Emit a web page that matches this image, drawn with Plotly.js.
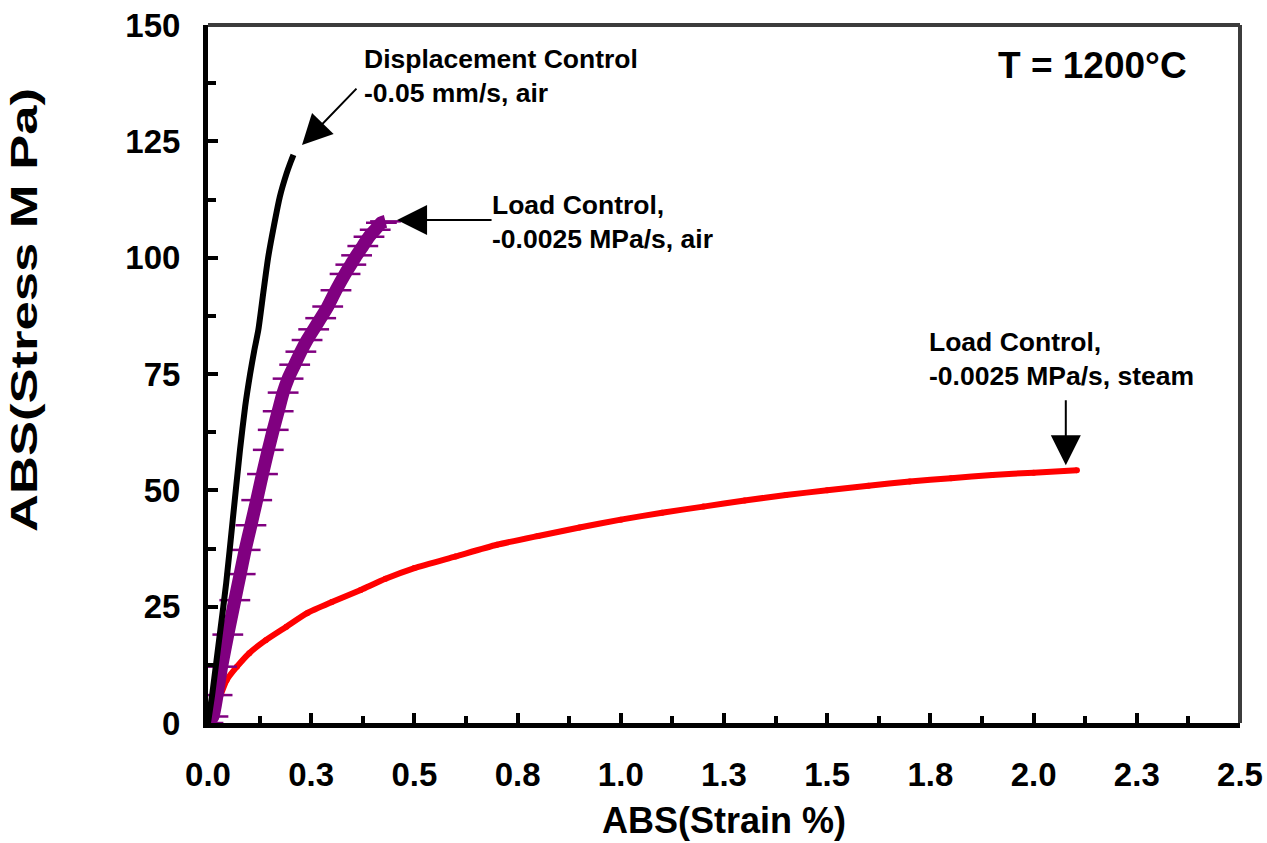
<!DOCTYPE html>
<html>
<head>
<meta charset="utf-8">
<script src="https://cdn.plot.ly/plotly-3.0.1.min.js"></script>
<style>
  html, body { margin: 0; padding: 0; background: #fff; }
  #chart { width: 1267px; height: 843px; }
</style>
</head>
<body>
<div id="chart"></div>
<script>
// Displacement control, -0.05 mm/s, air
const dispStrain = [0, 0.01, 0.02, 0.03, 0.044, 0.06, 0.0775, 0.09, 0.102, 0.112, 0.122, 0.134, 0.146, 0.16, 0.174, 0.19, 0.2, 0.207];
const dispStress = [0, 6, 13, 20, 30, 43.7, 58.7, 68, 75, 80, 84.5, 92.5, 100.2, 107, 113.1, 118, 120.5, 122.1];

// Load control, -0.0025 MPa/s, air
const airStrain = [0, 0.012, 0.022, 0.033, 0.048, 0.065, 0.078, 0.09, 0.104, 0.118, 0.132, 0.146, 0.158, 0.17, 0.182, 0.194, 0.21, 0.225, 0.24, 0.256, 0.273, 0.29, 0.31, 0.332, 0.346, 0.36, 0.375, 0.39, 0.405, 0.42, 0.43];
const airStress = [0, 1.4, 6, 12.1, 19, 26.4, 32, 37.2, 42.5, 47.9, 53.5, 58.7, 63, 67, 71, 74, 77, 79.8, 82.3, 84.6, 87, 89.5, 93, 96.5, 98.5, 100.5, 102.5, 104.5, 106, 107.5, 107.8];

// Load control, -0.0025 MPa/s, steam
const steamStrain = [0, 0.01, 0.02, 0.029, 0.045, 0.07, 0.1, 0.14, 0.19, 0.24, 0.3, 0.37, 0.43, 0.5, 0.6, 0.7, 0.8, 0.9, 1.0, 1.1, 1.2, 1.3, 1.4, 1.5, 1.6, 1.7, 1.8, 1.9, 2.0, 2.105];
const steamStress = [0, 2, 4, 5.7, 9.2, 12.1, 15, 17.8, 20.7, 23.6, 26, 28.6, 31, 33.3, 35.8, 38.3, 40.2, 42, 43.7, 45.2, 46.5, 47.8, 49, 50, 51, 51.9, 52.6, 53.3, 53.8, 54.3];

const xTickVals = [0, 0.25, 0.5, 0.75, 1.0, 1.25, 1.5, 1.75, 2.0, 2.25, 2.5];
const xTickText = ['0.0', '0.3', '0.5', '0.8', '1.0', '1.3', '1.5', '1.8', '2.0', '2.3', '2.5'];
const yTickVals = [0, 25, 50, 75, 100, 125, 150];
const yTickText = ['0', '25', '50', '75', '100', '125', '150'];

const FONT = 'Liberation Sans, Arial, sans-serif';

const traces = [
  {
    x: steamStrain, y: steamStress, type: 'scatter', mode: 'lines+markers',
    line: { color: '#ff0000', width: 6, shape: 'spline', smoothing: 0.6 },
    marker: { color: '#ff0000', size: 6 },
    name: 'Load Control, steam', showlegend: false
  },
  {
    x: airStrain, y: airStress, type: 'scatter', mode: 'lines+markers',
    line: { color: '#800080', width: 13, shape: 'spline', smoothing: 0.6 },
    marker: { symbol: 'line-ew-open', color: '#800080', size: 22, line: { color: '#800080', width: 2.5 } },
    name: 'Load Control, air', showlegend: false
  },
  {
    x: dispStrain, y: dispStress, type: 'scatter', mode: 'lines',
    line: { color: '#000000', width: 6, shape: 'spline', smoothing: 0.6 },
    name: 'Displacement Control', showlegend: false
  }
];

const annFont = { family: FONT, size: 26.5, color: '#000', weight: 700 };

const layout = {
  width: 1267, height: 843,
  margin: { l: 208, r: 27, t: 25, b: 120 },
  paper_bgcolor: '#fff', plot_bgcolor: '#fff',
  font: { family: FONT, color: '#000', weight: 700 },
  showlegend: false,
  xaxis: {
    range: [0, 2.5], tickmode: 'array', tickvals: xTickVals, ticktext: xTickText,
    ticks: 'inside', ticklen: 10, tickwidth: 4, tickcolor: '#000',
    minor: { dtick: 0.125, tick0: 0, ticks: 'inside', ticklen: 7, tickwidth: 4, tickcolor: '#000' },
    showline: true, linecolor: '#000', linewidth: 5,
    showgrid: false, zeroline: false,
    tickfont: { family: FONT, size: 33, color: '#000', weight: 700 },
    ticklabelstandoff: 18,
    title: { text: 'ABS(Strain %)', font: { family: FONT, size: 36, color: '#000', weight: 700 }, standoff: 18 },
    automargin: false
  },
  yaxis: {
    range: [0, 150], tickmode: 'array', tickvals: yTickVals, ticktext: yTickText,
    ticks: 'inside', ticklen: 10, tickwidth: 4, tickcolor: '#000',
    minor: { dtick: 12.5, tick0: 0, ticks: 'inside', ticklen: 8, tickwidth: 4, tickcolor: '#000' },
    showline: true, linecolor: '#000', linewidth: 5,
    showgrid: false, zeroline: false,
    tickfont: { family: FONT, size: 33, color: '#000', weight: 700 },
    ticklabelstandoff: 16,
    title: { text: 'ABS(Stress M Pa)', font: { family: FONT, size: 37, color: '#000', weight: 700 }, standoff: 78 },
    automargin: false
  },
  shapes: [
    { type: 'line', xref: 'paper', yref: 'paper', x0: 0, x1: 1, y0: 1, y1: 1, line: { color: '#3c3c3c', width: 4 } },
    { type: 'line', xref: 'paper', yref: 'paper', x0: 1, x1: 1, y0: 0, y1: 1, line: { color: '#3c3c3c', width: 4 } }
  ],
  annotations: [
    { xref: 'x', yref: 'y', x: 0.373, y: 139.0, xanchor: 'left', yanchor: 'middle', align: 'left',
      text: 'Displacement Control<br>-0.05 mm/s, air', showarrow: false, font: annFont },
    { xref: 'x', yref: 'y', x: 0.683, y: 107.6, xanchor: 'left', yanchor: 'middle', align: 'left',
      text: 'Load Control,<br>-0.0025 MPa/s, air', showarrow: false, font: annFont },
    { xref: 'x', yref: 'y', x: 1.742, y: 78.2, xanchor: 'left', yanchor: 'middle', align: 'left',
      text: 'Load Control,<br>-0.0025 MPa/s, steam', showarrow: false, font: annFont },
    { xref: 'x', yref: 'y', x: 2.1415, y: 141.2, xanchor: 'center', yanchor: 'middle',
      text: 'T = 1200°C', showarrow: false, font: { family: FONT, size: 37, color: '#000', weight: 700 } },
    // arrows
    { xref: 'x', yref: 'y', x: 0.2277, y: 124.2, ax: 56, ay: -58, text: ' ', font: { size: 1 },
      showarrow: true, arrowhead: 2, arrowsize: 3, arrowwidth: 2, arrowcolor: '#000', standoff: 0 },
    { xref: 'x', yref: 'y', x: 0.458, y: 108.1, ax: 96, ay: 0, text: ' ', font: { size: 1 },
      showarrow: true, arrowhead: 2, arrowsize: 3, arrowwidth: 2, arrowcolor: '#000', standoff: 0 },
    { xref: 'x', yref: 'y', x: 2.078, y: 55.4, ax: 0, ay: -67, text: ' ', font: { size: 1 },
      showarrow: true, arrowhead: 2, arrowsize: 3, arrowwidth: 2, arrowcolor: '#000', standoff: 0 }
  ]
};

Plotly.newPlot('chart', traces, layout, { displayModeBar: false, staticPlot: true }).then(function () {
  // stretch the y-axis title along its length, as in the original rendering, centred at y = 310 px
  const t = document.querySelector('.g-ytitle text');
  if (t) {
    t.setAttribute('textLength', '444');
    t.setAttribute('lengthAdjust', 'spacingAndGlyphs');
    const host = document.getElementById('chart').getBoundingClientRect();
    const r = t.getBoundingClientRect();
    const cy = r.top + r.height / 2 - host.top;
    const dy = cy - 310;
    const tr = t.getAttribute('transform') || '';
    t.setAttribute('transform', tr + ' translate(' + dy + ',0)');
  }
});
</script>
</body>
</html>
